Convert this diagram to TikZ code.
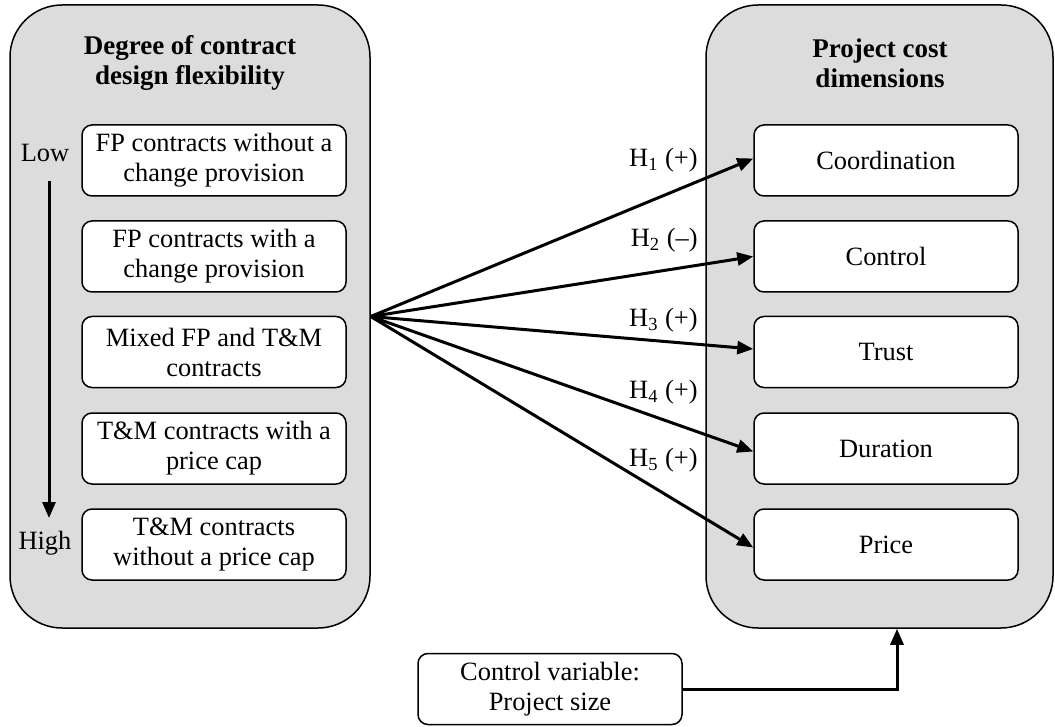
\documentclass[tikz,border=0pt]{standalone}
\usepackage{fontspec}
\setmainfont{Liberation Serif}
\usetikzlibrary{arrows.meta}
\definecolor{panelgray}{RGB}{220,220,220}
\begin{document}
\begin{tikzpicture}[x=0.5pt,y=-0.5pt,
  every node/.style={font=\fontsize{13.2}{15}\selectfont, inner sep=0pt},
  panel/.style={draw=black, line width=0.75pt, fill=panelgray, rounded corners=26pt,
    minimum height=311.5pt},
  itembox/.style={draw=black, line width=0.75pt, fill=white, rounded corners=5pt,
    minimum width=132pt, minimum height=35.5pt, align=center},
  ptitle/.style={font=\fontsize{13.5}{15}\selectfont\bfseries, align=center},
  hyp/.style={anchor=east},
  link/.style={line width=1.5pt, -{Triangle[length=8pt,width=6.5pt]}}
]
\useasboundingbox (0,0) rectangle (1055,727);

% panels
\node[panel, minimum width=180pt] (L) at (190,316.5) {};
\node[panel, minimum width=173.5pt] (R) at (879.5,316.5) {};

\node[ptitle] (Lt) at (190,63) {Degree of contract\\design flexibility};
\node[ptitle] (Rt) at (880,63) {Project cost\\dimensions};

% left items
\node[itembox] (l1) at (214,160.5) {FP contracts without a\\change provision};
\node[itembox] (l2) at (214,256.5) {FP contracts with a\\change provision};
\node[itembox] (l3) at (214,352) {Mixed FP and T\&M\\contracts};
\node[itembox] (l4) at (214,448.5) {T\&M contracts with a\\price cap};
\node[itembox] (l5) at (214,544.5) {T\&M contracts\\without a price cap};

\node (low) at (45,153) {Low};
\node (high) at (45,543) {High};
\coordinate (a1) at (49,181);
\coordinate (a2) at (49,518);
\draw[link] (a1) -- (a2);

% right items
\node[itembox] (r1) at (886,160.5) {Coordination};
\node[itembox] (r2) at (886,256.5) {Control};
\node[itembox] (r3) at (886,352) {Trust};
\node[itembox] (r4) at (886,448.5) {Duration};
\node[itembox] (r5) at (886,544.5) {Price};

% hypotheses
\draw[link] (L.east) -- ([yshift=1pt]r1.west);
\draw[link] (L.east) -- (r2.west);
\draw[link] (L.east) -- ([yshift=1.5pt]r3.west);
\draw[link] (L.east) -- ([yshift=-1.5pt]r4.west);
\draw[link] (L.east) -- ([yshift=-1.5pt]r5.west);

\node[hyp] (h1) at (698,160) {H\textsubscript{1} (+)};
\node[hyp] (h2) at (698,240) {H\textsubscript{2} (–)};
\node[hyp] (h3) at (698,320) {H\textsubscript{3} (+)};
\node[hyp] (h4) at (698,392) {H\textsubscript{4} (+)};
\node[hyp] (h5) at (698,460) {H\textsubscript{5} (+)};

% control variable
\node[itembox] (cv) at (550,689) {Control variable:\\Project size};
\draw[link] (cv.east) -| ([xshift=8.75pt]R.south);
\end{tikzpicture}
\end{document}
